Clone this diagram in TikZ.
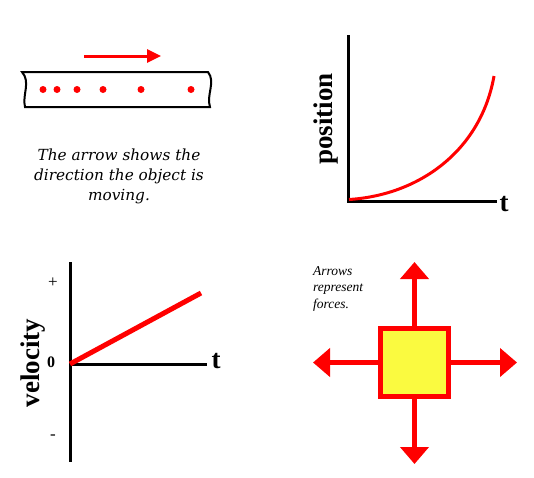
\documentclass[tikz,border=0pt]{standalone}
\usepackage{fontspec}
\setmainfont{Liberation Serif}
\newfontfamily\capfont{DejaVu Serif}
\usetikzlibrary{arrows.meta}
\definecolor{rd}{RGB}{255,0,0}
\definecolor{yel}{RGB}{250,250,64}
\tikzset{
  axis/.style={line width=3pt, black},
  biglabel/.style={font=\fontsize{27}{30}\selectfont\bfseries, inner sep=0pt},
  tick/.style={font=\fontsize{17}{18}\selectfont, inner sep=0pt},
  force/.style={rd, line width=5pt, -{Triangle[width=28pt,length=17pt]}},
  dot/.style={circle, fill=rd, inner sep=0pt, minimum size=7pt}
}
\begin{document}
\begin{tikzpicture}[x=1pt,y=-1pt]
\useasboundingbox (0,0) rectangle (534,477);
% ---- top-left: tube with dots
\draw[line width=2pt] (22,72) -- (208,72) .. controls (216,82) and (206,95) .. (210,107) -- (25,107) .. controls (22,95) and (31,82) .. (22,72) -- cycle;
\foreach \x/\n in {43/a,57/b,77/c,103/d,141/e,191/f} \node[dot] (d\n) at (\x,89.5) {};
\coordinate (mvA) at (84,56);
\coordinate (mvB) at (161,56);
\draw[rd, line width=3pt, -{Triangle[width=13pt,length=14pt]}] (mvA) -- (mvB);
\node[align=center, font=\capfont\fontsize{15.3}{20}\selectfont\itshape, inner sep=0pt] (cap) at (119,176)
  {The arrow shows the\\direction the object is\\moving.};
% ---- top-right: position graph
\coordinate (p0) at (348,201);
\coordinate (ptop) at (348,35);
\coordinate (pend) at (497,201);
\draw[axis] (ptop) -- (p0) -- (pend);
\node[biglabel, rotate=90] (pos) at (326,119) {position};
\node[biglabel, anchor=base] (t1) at (504,211) {t};
\coordinate (c0) at (349,199.5);
\coordinate (c1) at (494,76);
\draw[rd, line width=3pt] (c0) .. controls (420,195) and (481,150) .. (c1);
% ---- bottom-left: velocity graph
\coordinate (vtop) at (70,262);
\coordinate (vbot) at (70,462);
\coordinate (v0) at (70,364);
\coordinate (vend) at (207,364);
\draw[axis] (vtop) -- (vbot);
\draw[axis] (v0) -- (vend);
\node[biglabel, rotate=90] (vel) at (33,363) {velocity};
\node[biglabel, anchor=base] (t2) at (216,368) {t};
\node[tick] (plus) at (53,283) {+};
\node[tick, font=\fontsize{16}{18}\selectfont\bfseries] (zero) at (51,362) {0};
\node[tick] (minus) at (53,437) {-};
\coordinate (vl) at (201,293);
\draw[rd, line width=5pt] (v0) -- (vl);
% ---- bottom-right: forces
\node[draw=rd, line width=5pt, fill=yel, minimum size=68pt, inner sep=0pt] (box) at (414.5,362.5) {};
\coordinate (fu) at (414.5,262);
\coordinate (fd) at (414.5,464);
\coordinate (fl) at (313,362.5);
\coordinate (fr) at (517,362.5);
\draw[force] (box.north) -- (fu);
\draw[force] (box.south) -- (fd);
\draw[force] (box.west) -- (fl);
\draw[force] (box.east) -- (fr);
\node[anchor=north west, align=left, font=\fontsize{13.5}{16.5}\selectfont\itshape, inner sep=0pt] (note) at (313,266)
  {Arrows\\represent\\forces.};
\end{tikzpicture}
\end{document}
